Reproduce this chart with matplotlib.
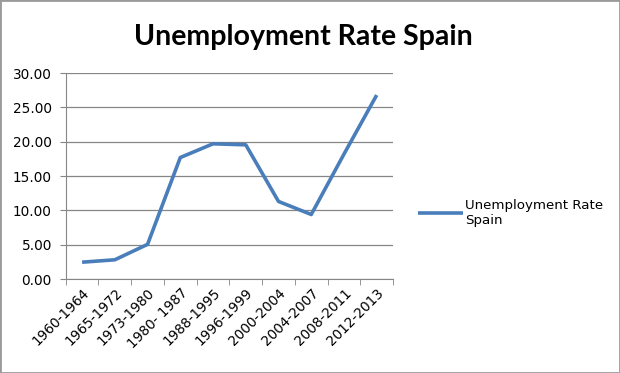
import matplotlib.pyplot as plt
import numpy as np

# periodos y tasa de paro
periodos = ["1960-1964", "1965-1972", "1973-1980", "1980- 1987", "1988-1995",
            "1996-1999", "2000-2004", "2004-2007", "2008-2011", "2012-2013"]
tasa = [2.45, 2.8, 5.05, 17.7, 19.7, 19.55, 11.3, 9.4, 18.2, 26.8]

fig = plt.figure(figsize=(6.2, 3.73), dpi=100)
ax = fig.add_axes([0.106, 0.252, 0.528, 0.552])

x = np.arange(len(periodos))
linea, = ax.plot(x, tasa, color="#4a7ebb", lw=2.6, solid_capstyle="butt",
                 label="Unemployment Rate\nSpain")

ax.set_xlim(-0.5, len(periodos) - 0.5)
ax.set_ylim(0, 30)
ax.set_yticks(np.arange(0, 31, 5))
ax.set_yticklabels(["%.2f" % v for v in np.arange(0, 31, 5)], fontsize=9.8)
ax.yaxis.grid(True, color="#868686", lw=0.9)
ax.set_axisbelow(True)

ax.set_xticks(x)
ax.set_xticklabels(periodos, rotation=45, ha="right", rotation_mode="anchor", fontsize=9.8)
ax.set_xticks(np.arange(-0.5, len(periodos), 1), minor=True)
ax.tick_params(axis="x", which="major", length=0, pad=5)
ax.tick_params(axis="x", which="minor", length=4, color="#868686")
ax.tick_params(axis="y", length=4, color="#868686", pad=6)

for s in ["top", "right"]:
    ax.spines[s].set_visible(False)
for s in ["left", "bottom"]:
    ax.spines[s].set_color("#868686")

fig.text(0.49, 0.9, "Unemployment Rate Spain", ha="center", va="center",
         fontsize=20.5, fontweight="bold", family="Lato")

fig.legend(handles=[linea], loc="center left", bbox_to_anchor=(0.655, 0.43),
           frameon=False, fontsize=9.6, handlelength=3.4, handletextpad=0.1)

# marco gris de la imagen
fig.patches.append(plt.Rectangle((0, 0), 1, 1, transform=fig.transFigure,
                                 fill=False, ec="#9a9a9a", lw=2))

plt.savefig("out.png", dpi=100)
